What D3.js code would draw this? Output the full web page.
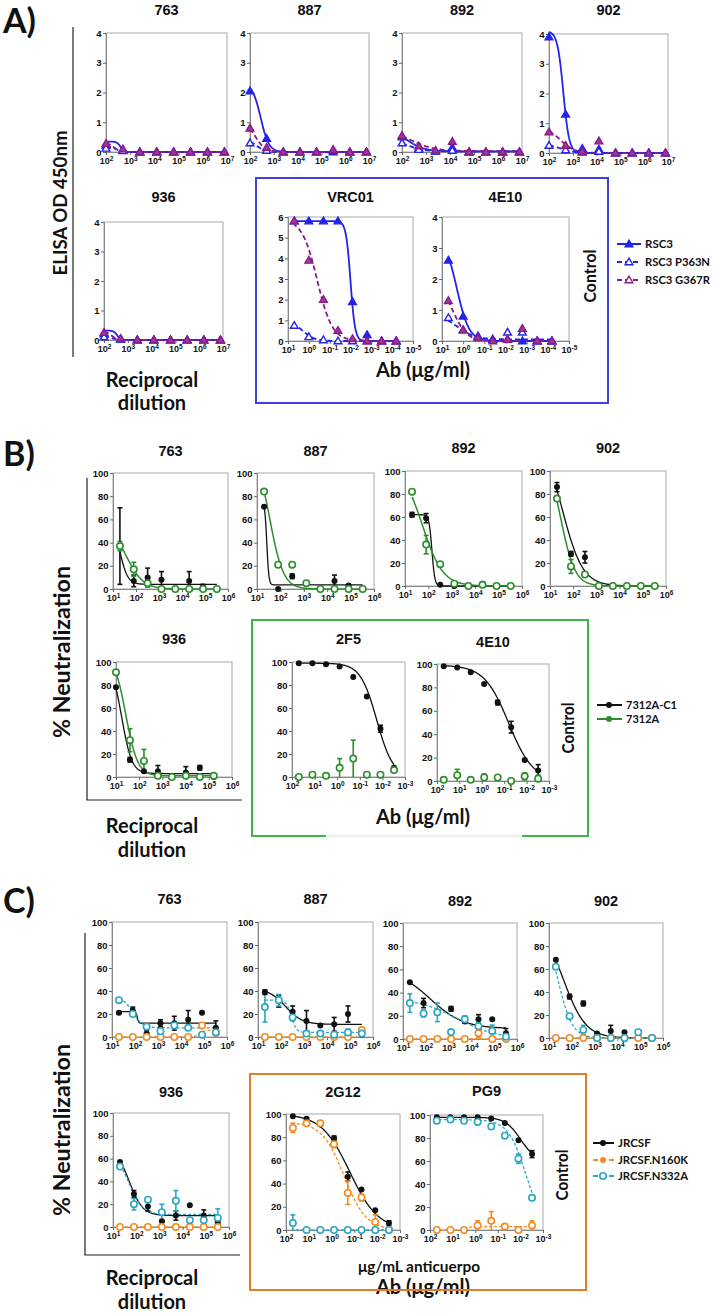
<!DOCTYPE html>
<html><head><meta charset="utf-8">
<script src="https://cdn.jsdelivr.net/npm/d3@7"></script>
<style>body{margin:0;background:#fff}svg{display:block}</style>
</head><body>
<svg id="c" width="713" height="1313"></svg>
<script>
// ---------------- DATA ----------------
// x values (reciprocal dilutions / antibody concentrations, ug/ml)
const A_dil = [100, 500, 2500, 12500, 62500, 312500, 1562500, 7812500];
const A_conc = [5, 1, 0.2, 0.04, 0.008, 0.0016, 0.00032, 0.000064];
const B_dil = [20, 80, 320, 1280, 5120, 20480, 81920, 327680];
const B936_dil = [10, 40, 160, 640, 2560, 10240, 40960, 163840];
const C_dil = [20, 80, 320, 1280, 5120, 20480, 81920, 327680];
const Ab_conc = [50, 12.5, 3.125, 0.781, 0.195, 0.0488, 0.0122, 0.00305];

// tick labels (powers of ten)
const A_dil_exp = [2, 3, 4, 5, 6, 7];
const A_conc_exp = [1, 0, -1, -2, -3, -4, -5];
const BC_dil_exp = [1, 2, 3, 4, 5, 6];
const BC_conc_exp = [2, 1, 0, -1, -2, -3];

// Panel A  (ELISA OD 450nm) series: RSC3, RSC3 P363N, RSC3 G367R
const A763_RSC3 = [0.22, 0.05, 0, 0, 0, 0, 0, 0];
const A763_P363N = [0.12, 0.04, 0, 0, 0, 0, 0, 0];
const A763_G367R = [0.28, 0.1, 0, 0, 0, 0, 0, 0];
const A887_RSC3 = [2.05, 0.45, 0, 0, 0, 0, 0, 0];
const A887_P363N = [0.3, 0.05, 0, 0, 0, 0.05, 0, 0];
const A887_G367R = [0.8, 0.15, 0, 0, 0, 0.08, 0, 0];
const A892_RSC3 = [0.5, 0.12, 0.02, 0.15, 0, 0, 0, 0];
const A892_P363N = [0.3, 0.08, 0.02, 0.05, 0, 0, 0, 0];
const A892_G367R = [0.55, 0.2, 0.05, 0.35, 0, 0, 0, 0];
const A902_RSC3 = [3.9, 1.3, 0.15, 0.12, 0, 0, 0, 0];
const A902_P363N = [0.25, 0.1, 0.02, 0.05, 0, 0, 0, 0];
const A902_G367R = [0.7, 0.25, 0.05, 0.4, 0, 0, 0, 0];
const A936_RSC3 = [0.2, 0.02, 0, 0, 0, 0, 0, 0];
const A936_P363N = [0.1, 0.02, 0, 0, 0, 0, 0, 0];
const A936_G367R = [0.25, 0.05, 0, 0, 0, 0, 0, 0];
const AVRC01_RSC3 = [5.8, 5.8, 5.8, 5.8, 1.9, 0.3, 0, 0];
const AVRC01_P363N = [0.75, 0.2, 0.05, 0, 0, 0, 0, 0];
const AVRC01_G367R = [5.8, 3.9, 2.0, 0.5, 0.1, 0, 0, 0];
const A4E10_RSC3 = [2.6, 0.8, 0.15, 0.05, 0.05, 0, 0, 0];
const A4E10_P363N = [0.75, 0.35, 0.15, 0.05, 0.28, 0.28, 0, 0];
const A4E10_G367R = [1.3, 0.35, 0.1, 0, 0.05, 0.4, 0, 0];
// fitted curves: [top, bottom, logEC50, hill]
const A763_fit = [[0.35, 0, 2.6, 6], [0.2, 0, 2.4, 3], [0.35, 0, 2.3, 3]];
const A887_fit = [[2.3, 0, 2.45, 2.5], [0.4, 0, 2.3, 2.5], [1.1, 0, 2.2, 2]];
const A892_fit = [[0.8, 0.02, 2.2, 1.2], [0.45, 0.02, 2.2, 1.2], [0.75, 0.03, 2.4, 0.9]];
const A902_fit = [[4.1, 0, 2.6, 3.5], [0.3, 0, 2.5, 1.5], [0.85, 0, 2.5, 1.5]];
const A936_fit = [[0.32, 0, 2.55, 6], [0.15, 0, 2.3, 3], [0.32, 0, 2.3, 3]];
const AVRC01_fit = [[5.8, 0, -2.0, -4], [1.0, 0, 0.3, -1.5], [5.9, 0, -0.4, -1.2]];
const A4E10_fit = [[3.4, 0, 0.3, -1.5], [0.9, 0.05, 0.3, -1], [2, 0, 0.5, -1.3]];

// Panel B (% neutralization) series: 7312A-C1, 7312A  (values, error half-widths)
const B763_C1 = [37, 7, 10, 8, 0, 7, 2, 0];     const B763_C1_err = [33, 5, 8, 7, 0, 8, 2, 0];
const B763_A = [37, 17, 5, 0, 0, 0, 0, 0];      const B763_A_err = [4, 6, 3, 0, 0, 0, 0, 0];
const B887_C1 = [71, 0, 11, 5, 0, 7, 3, 0];     const B887_C1_err = [0, 0, 2, 0, 0, 5, 0, 0];
const B887_A = [84, 21, 21, 5, 0, 0, 0, 0];     const B887_A_err = [0, 2, 0, 0, 0, 0, 0, 0];
const B892_C1 = [62, 59, 1, 0, 0, 2, 0, 0];     const B892_C1_err = [2, 4, 0, 0, 0, 1, 0, 0];
const B892_A = [82, 36, 19, 2, 0, 1, 0, 0];     const B892_A_err = [2, 8, 0, 0, 0, 0, 0, 0];
const B902_C1 = [86, 28, 25, 0, 0, 0, 0, 0];    const B902_C1_err = [4, 2, 5, 0, 0, 0, 0, 0];
const B902_A = [76, 17, 10, 0, 0, 0, 0, 0];     const B902_A_err = [0, 6, 0, 0, 0, 0, 0, 0];
const B936_C1 = [78, 15, 5, 5, 0, 4, 8, 0];     const B936_C1_err = [0, 2, 0, 5, 0, 5, 2, 0];
const B936_A = [91, 32, 14, 1, 0, 1, 0, 1];     const B936_A_err = [0, 10, 10, 0, 0, 0, 0, 0];
const B2F5_C1 = [99, 99, 98, 96, 87, 70, 42, 8]; const B2F5_C1_err = [0, 0, 0, 0, 0, 0, 3, 1];
const B2F5_A = [0, 2, 1, 8, 16, 2, 2, 6];       const B2F5_A_err = [0, 0, 0, 8, 16, 0, 0, 2];
const B4E10_C1 = [98, 97, 93, 83, 67, 46, 18, 9]; const B4E10_C1_err = [0, 0, 0, 1, 2, 5, 1, 5];
const B4E10_A = [1, 5, 1, 3, 3, 0, 4, 2];       const B4E10_A_err = [0, 5, 0, 3, 0, 0, 3, 3];
const B763_fit = [[60, 4, 1.3, 2.5], [55, 0, 1.6, 1.2]];
const B887_fit = [[75, 3.5, 1.42, 10], [120, 0, 1.55, 1.5]];
const B892_fit = [[62, 0, 2.15, 7], [105, 0, 1.75, 1.0]];
const B902_fit = [[130, 0, 1.55, 1.0], [120, 0, 1.45, 1.4]];
const B936_fit = [[100, 3, 1.25, 2], [108, 1, 1.42, 1.7]];
const B2F5_fit = [[99, 0, -1.75, -1.2], null];
const B4E10_fit = [[99, 0, -1.2, -0.8], null];

// Panel C (% neutralization) series: JRCSF, JRCSF.N160K, JRCSF.N332A
const C763_JR = [21, 23, 3, 12, 12, 15, 21, 8];   const C763_JR_err = [1, 3, 3, 3, 6, 8, 0, 6];
const C763_K = [0, 0, 0, 0, 0, 0, 10, 4];         const C763_K_err = [0, 0, 0, 0, 0, 0, 0, 3];
const C763_A = [32, 20, 9, 5, 10, 8, 2, 4];       const C763_A_err = [0, 0, 2, 0, 0, 0, 0, 0];
const C887_JR = [39, 31, 22, 14, 10, 11, 20, 2];  const C887_JR_err = [2, 5, 5, 9, 0, 6, 7, 2];
const C887_K = [0, 0, 0, 0, 0, 0, 0, 6];          const C887_K_err = [0, 0, 0, 0, 0, 0, 0, 1];
const C887_A = [26, 32, 17, 3, 3, 2, 4, 3];       const C887_A_err = [13, 5, 3, 0, 0, 0, 3, 0];
const C892_JR = [49, 31, 23, 26, 15, 17, 17, 5];  const C892_JR_err = [0, 4, 2, 2, 1, 4, 0, 4];
const C892_K = [0, 0, 0, 0, 0, 5, 0, 0];          const C892_K_err = [0, 0, 0, 0, 0, 4, 0, 0];
const C892_A = [31, 22, 23, 6, 17, 11, 7, 2];     const C892_A_err = [8, 3, 8, 0, 3, 3, 5, 0];
const C902_JR = [68, 36, 30, 4, 6, 5, 2, 0];      const C902_JR_err = [0, 2, 2, 0, 5, 0, 0, 0];
const C902_K = [0, 0, 0, 0, 0, 0, 0, 0];          const C902_K_err = [0, 0, 0, 0, 0, 0, 0, 0];
const C902_A = [62, 19, 7, 0, 0, 0, 5, 0];        const C902_A_err = [0, 0, 4, 0, 0, 0, 0, 0];
const C936_JR = [57, 29, 18, 5, 10, 19, 10, 4];   const C936_JR_err = [0, 3, 4, 0, 4, 0, 5, 2];
const C936_K = [0, 0, 0, 0, 0, 0, 0, 0];          const C936_K_err = [0, 0, 0, 0, 0, 0, 0, 0];
const C936_A = [53, 20, 24, 13, 23, 6, 6, 8];     const C936_A_err = [0, 5, 0, 7, 9, 0, 0, 8];
const C2G12_JR = [98, 96, 91, 79, 46, 35, 17, 6]; const C2G12_JR_err = [0, 0, 1, 2, 4, 0, 0, 2];
const C2G12_K = [88, 92, 92, 74, 32, 28, 7, 0];   const C2G12_K_err = [4, 0, 2, 3, 10, 3, 6, 0];
const C2G12_A = [6, 0, 0, 0, 0, 0, 0, 0];         const C2G12_A_err = [7, 0, 0, 0, 0, 0, 0, 0];
const CPG9_JR = [98, 98, 98, 98, 97, 93, 78, 66]; const CPG9_JR_err = [0, 0, 0, 0, 0, 0, 0, 3];
const CPG9_K = [0, 0, 0, 4, 8, 3, 0, 4];          const CPG9_K_err = [0, 0, 0, 4, 8, 2, 0, 4];
const CPG9_A = [95, 96, 95, 94, 90, 82, 62, 28];  const CPG9_A_err = [0, 0, 0, 0, 0, 0, 4, 2];
const C763_fit = [[22, 12, 2.1, 15], [0, 6, 4.8, 4], [35, 8, 1.9, 2]];
const C887_fit = [[42, 11, 2.2, 1.2], [0, 0, 3, 1], [32, 4, 2.45, 4]];
const C892_fit = [[60, 9, 2.2, 0.6], [0, 0, 3, 1], [35, 0, 3.4, 0.5]];
const C902_fit = [[100, 0, 1.65, 0.9], [0, 0, 3, 1], [100, 0, 1.4, 1.4]];
const C936_fit = [[70, 10, 1.7, 1.5], [0, 0, 3, 1], [65, 11, 1.7, 1.5]];
const C2G12_fit = [[100, 0, -0.8, -0.7], [93, 0, -0.55, -0.9], [0, 0, 0, 1]];
const CPG9_fit = [[98, 60, -2.0, -1.3], [0, 3, 0.3, -8], [96, 0, -2.25, -1.1]];

// ---------------- DRAWING ----------------
const svg = d3.select('#c');
const TF = '"Liberation Sans", Arial, sans-serif';
const LF = 'Lato, "Open Sans", sans-serif';
const COL = {
  blue: '#2323ee', purple: '#8b1a89', black: '#111', green: '#2a8f2a',
  orange: '#f68b1f', cyan: '#2aa6c6'
};

function fitY(p, xv) {
  const [top, bot, ec, h] = p;
  return bot + (top - bot) / (1 + Math.pow(10, (Math.log10(xv) - ec) * h));
}

function drawPlot(c) {
  const g = svg.append('g');
  const x = d3.scaleLog().domain(c.xdom).range([c.x0, c.x1]);
  const y = d3.scaleLinear().domain([0, c.ymax]).range([c.y1, c.y0]);
  g.append('rect').attr('x', c.x0).attr('y', c.y0).attr('width', c.x1 - c.x0).attr('height', c.y1 - c.y0)
    .attr('fill', 'none').attr('stroke', '#a8a8a8').attr('stroke-width', 1);
  const ya = g.append('g').attr('transform', `translate(${c.x0},0)`)
    .call(d3.axisLeft(y).tickValues(d3.range(0, c.ymax + 1e-9, c.ystep)).tickSize(3).tickPadding(1.5).tickFormat(d3.format('d')));
  ya.select('.domain').attr('stroke', '#888');
  ya.selectAll('.tick line').attr('stroke', '#666');
  ya.selectAll('text').attr('font-family', TF).attr('font-weight', 'bold').attr('font-size', 9.5).attr('fill', '#111');
  const xa = g.append('g').attr('transform', `translate(0,${c.y1})`)
    .call(d3.axisBottom(x).tickValues(c.xexp.map(e => Math.pow(10, e))).tickSize(3).tickPadding(3).tickFormat(() => ''));
  xa.select('.domain').attr('stroke', '#888');
  xa.selectAll('.tick line').attr('stroke', '#666');
  xa.selectAll('.tick text').attr('font-family', TF).attr('font-weight', 'bold').attr('font-size', 9).attr('fill', '#111')
    .each(function (d) {
      const t = d3.select(this);
      const e = Math.round(Math.log10(d));
      t.append('tspan').text('10');
      t.append('tspan').attr('dy', '-0.45em').attr('font-size', 6.5).text(e);
    });
  // title
  g.append('text').attr('x', (c.x0 + c.x1) / 2).attr('y', c.ty).attr('text-anchor', 'middle')
    .attr('font-family', TF).attr('font-weight', 'bold').attr('font-size', 14.5).attr('fill', '#111').text(c.title);
  // curves
  c.series.forEach(s => {
    if (!s.fit) return;
    const lo = Math.log10(d3.min(s.x)), hi = Math.log10(d3.max(s.x));
    const pts = d3.range(0, 241).map(i => {
      const lx = lo + (hi - lo) * i / 240;
      return [x(Math.pow(10, lx)), y(fitY(s.fit, Math.pow(10, lx)))];
    });
    g.append('path').attr('d', d3.line()(pts)).attr('fill', 'none').attr('stroke', s.color)
      .attr('stroke-width', s.lw || 1.5).attr('stroke-dasharray', s.dash || null);
  });
  // error bars
  c.series.forEach(s => {
    if (!s.err) return;
    s.y.forEach((v, i) => {
      const e = s.err[i];
      if (!e) return;
      const px = x(s.x[i]);
      const yl = y(Math.max(0, v - e)), yh = y(v + e);
      g.append('line').attr('x1', px).attr('x2', px).attr('y1', yl).attr('y2', yh).attr('stroke', s.color).attr('stroke-width', 1.6);
      g.append('line').attr('x1', px - 2.5).attr('x2', px + 2.5).attr('y1', yh).attr('y2', yh).attr('stroke', s.color).attr('stroke-width', 1.6);
      if (v - e > 0) g.append('line').attr('x1', px - 2.5).attr('x2', px + 2.5).attr('y1', yl).attr('y2', yl).attr('stroke', s.color).attr('stroke-width', 1.6);
    });
  });
  // markers
  c.series.forEach(s => {
    s.y.forEach((v, i) => {
      const px = x(s.x[i]), py = y(v);
      drawMarker(g, s.marker, px, py, s.color, s.open, s.fill);
    });
  });
}

function drawMarker(g, type, px, py, color, open, fill) {
  if (type === 'tri') {
    g.append('path').attr('d', d3.symbol().type(d3.symbolTriangle).size(26)())
      .attr('transform', `translate(${px},${py + 0.5})`)
      .attr('fill', open ? '#fff' : (fill || color)).attr('stroke', color).attr('stroke-width', 1.4);
  } else {
    if (open) {
      g.append('circle').attr('cx', px).attr('cy', py).attr('r', 3.2).attr('fill', '#fff').attr('stroke', color).attr('stroke-width', 1.6);
    } else {
      g.append('circle').attr('cx', px).attr('cy', py).attr('r', 3).attr('fill', color);
    }
  }
}

// ---- Panel A config
const A_styles = [
  { color: COL.blue, marker: 'tri', open: false, dash: null, lw: 1.8 },
  { color: COL.blue, marker: 'tri', open: true, dash: '5,3', lw: 1.8 },
  { color: COL.purple, marker: 'tri', open: false, fill: '#9a3a98', dash: '5,3', lw: 1.8 }
];
function aSeries(xv, arr, fits) {
  return arr.map((v, i) => Object.assign({ x: xv, y: v, fit: fits[i] }, A_styles[i]));
}
const panelsA = [
  { title: '763', ty: 15, x0: 106, x1: 227, y0: 33, y1: 152, xdom: [100, 1e7], xexp: A_dil_exp, ymax: 4, ystep: 1, series: aSeries(A_dil, [A763_RSC3, A763_P363N, A763_G367R], A763_fit) },
  { title: '887', ty: 15, x0: 250, x1: 369, y0: 33, y1: 152, xdom: [100, 1e7], xexp: A_dil_exp, ymax: 4, ystep: 1, series: aSeries(A_dil, [A887_RSC3, A887_P363N, A887_G367R], A887_fit) },
  { title: '892', ty: 15, x0: 402, x1: 522, y0: 33, y1: 152, xdom: [100, 1e7], xexp: A_dil_exp, ymax: 4, ystep: 1, series: aSeries(A_dil, [A892_RSC3, A892_P363N, A892_G367R], A892_fit) },
  { title: '902', ty: 15, x0: 549, x1: 668, y0: 34, y1: 153, xdom: [100, 1e7], xexp: A_dil_exp, ymax: 4, ystep: 1, series: aSeries(A_dil, [A902_RSC3, A902_P363N, A902_G367R], A902_fit) },
  { title: '936', ty: 202, x0: 104, x1: 223, y0: 222, y1: 340, xdom: [100, 1e7], xexp: A_dil_exp, ymax: 4, ystep: 1, series: aSeries(A_dil, [A936_RSC3, A936_P363N, A936_G367R], A936_fit) },
  { title: 'VRC01', ty: 202, x0: 288, x1: 413, y0: 217, y1: 341, xdom: [10, 1e-5], xexp: A_conc_exp, ymax: 6, ystep: 1, series: aSeries(A_conc, [AVRC01_RSC3, AVRC01_P363N, AVRC01_G367R], AVRC01_fit) },
  { title: '4E10', ty: 202, x0: 442, x1: 569, y0: 217, y1: 341, xdom: [10, 1e-5], xexp: A_conc_exp, ymax: 4, ystep: 1, series: aSeries(A_conc, [A4E10_RSC3, A4E10_P363N, A4E10_G367R], A4E10_fit) }
];

// ---- Panel B config
const B_styles = [
  { color: COL.black, marker: 'circle', open: false, lw: 1.3 },
  { color: COL.green, marker: 'circle', open: true, lw: 1.5 }
];
function bSeries(xv, vals, errs, fits) {
  return vals.map((v, i) => Object.assign({ x: xv, y: v, err: errs[i], fit: fits[i] }, B_styles[i]));
}
const panelsB = [
  { title: '763', ty: 456, x0: 113, x1: 228, y0: 473, y1: 589, xdom: [10, 1e6], xexp: BC_dil_exp, ymax: 100, ystep: 20, series: bSeries(B_dil, [B763_C1, B763_A], [B763_C1_err, B763_A_err], B763_fit) },
  { title: '887', ty: 456, x0: 257, x1: 374, y0: 473, y1: 589, xdom: [10, 1e6], xexp: BC_dil_exp, ymax: 100, ystep: 20, series: bSeries(B_dil, [B887_C1, B887_A], [B887_C1_err, B887_A_err], B887_fit) },
  { title: '892', ty: 453, x0: 405, x1: 522, y0: 471, y1: 586, xdom: [10, 1e6], xexp: BC_dil_exp, ymax: 100, ystep: 20, series: bSeries(B_dil, [B892_C1, B892_A], [B892_C1_err, B892_A_err], B892_fit) },
  { title: '902', ty: 453, x0: 550, x1: 666, y0: 471, y1: 586, xdom: [10, 1e6], xexp: BC_dil_exp, ymax: 100, ystep: 20, series: bSeries(B_dil, [B902_C1, B902_A], [B902_C1_err, B902_A_err], B902_fit) },
  { title: '936', ty: 644, x0: 116, x1: 232, y0: 662, y1: 777, xdom: [10, 1e6], xexp: BC_dil_exp, ymax: 100, ystep: 20, series: bSeries(B936_dil, [B936_C1, B936_A], [B936_C1_err, B936_A_err], B936_fit) },
  { title: '2F5', ty: 644, x0: 292, x1: 405, y0: 662, y1: 777, xdom: [100, 1e-3], xexp: BC_conc_exp, ymax: 100, ystep: 20, series: bSeries(Ab_conc, [B2F5_C1, B2F5_A], [B2F5_C1_err, B2F5_A_err], B2F5_fit) },
  { title: '4E10', ty: 647, x0: 437, x1: 549, y0: 664, y1: 781, xdom: [100, 1e-3], xexp: BC_conc_exp, ymax: 100, ystep: 20, series: bSeries(Ab_conc, [B4E10_C1, B4E10_A], [B4E10_C1_err, B4E10_A_err], B4E10_fit) }
];

// ---- Panel C config
const C_styles = [
  { color: COL.black, marker: 'circle', open: false, lw: 1.3 },
  { color: COL.orange, marker: 'circle', open: true, dash: '3,2', lw: 1.3 },
  { color: COL.cyan, marker: 'circle', open: true, dash: '3,2', lw: 1.3 }
];
function cSeries(xv, vals, errs, fits) {
  return vals.map((v, i) => Object.assign({ x: xv, y: v, err: errs[i], fit: fits[i] }, C_styles[i]));
}
const panelsC = [
  { title: '763', ty: 904, x0: 112, x1: 227, y0: 922, y1: 1037, xdom: [10, 1e6], xexp: BC_dil_exp, ymax: 100, ystep: 20, series: cSeries(C_dil, [C763_JR, C763_K, C763_A], [C763_JR_err, C763_K_err, C763_A_err], C763_fit) },
  { title: '887', ty: 904, x0: 258, x1: 373, y0: 922, y1: 1037, xdom: [10, 1e6], xexp: BC_dil_exp, ymax: 100, ystep: 20, series: cSeries(C_dil, [C887_JR, C887_K, C887_A], [C887_JR_err, C887_K_err, C887_A_err], C887_fit) },
  { title: '892', ty: 906, x0: 403, x1: 517, y0: 923, y1: 1039, xdom: [10, 1e6], xexp: BC_dil_exp, ymax: 100, ystep: 20, series: cSeries(C_dil, [C892_JR, C892_K, C892_A], [C892_JR_err, C892_K_err, C892_A_err], C892_fit) },
  { title: '902', ty: 906, x0: 549, x1: 663, y0: 923, y1: 1038, xdom: [10, 1e6], xexp: BC_dil_exp, ymax: 100, ystep: 20, series: cSeries(C_dil, [C902_JR, C902_K, C902_A], [C902_JR_err, C902_K_err, C902_A_err], C902_fit) },
  { title: '936', ty: 1097, x0: 113, x1: 229, y0: 1113, y1: 1227, xdom: [10, 1e6], xexp: BC_dil_exp, ymax: 100, ystep: 20, series: cSeries(C_dil, [C936_JR, C936_K, C936_A], [C936_JR_err, C936_K_err, C936_A_err], C936_fit) },
  { title: '2G12', ty: 1097, x0: 286, x1: 400, y0: 1114, y1: 1230, xdom: [100, 1e-3], xexp: BC_conc_exp, ymax: 100, ystep: 20, series: cSeries(Ab_conc, [C2G12_JR, C2G12_K, C2G12_A], [C2G12_JR_err, C2G12_K_err, C2G12_A_err], C2G12_fit) },
  { title: 'PG9', ty: 1096, x0: 430, x1: 543, y0: 1115, y1: 1230, xdom: [100, 1e-3], xexp: BC_conc_exp, ymax: 100, ystep: 20, series: cSeries(Ab_conc, [CPG9_JR, CPG9_K, CPG9_A], [CPG9_JR_err, CPG9_K_err, CPG9_A_err], CPG9_fit) }
];

function line(x1, y1, x2, y2, color, w) {
  svg.append('line').attr('x1', x1).attr('y1', y1).attr('x2', x2).attr('y2', y2).attr('stroke', color).attr('stroke-width', w);
}
function label(txt, xx, yy, size, opts = {}) {
  const t = svg.append('text').attr('x', xx).attr('y', yy).attr('font-family', opts.font || LF)
    .attr('font-weight', opts.weight || 'bold').attr('font-size', size).attr('fill', '#111')
    .attr('text-anchor', opts.anchor || 'start').text(txt);
  if (opts.len) t.attr('textLength', opts.len).attr('lengthAdjust', 'spacingAndGlyphs');
  if (opts.rotate) t.attr('transform', `rotate(-90,${xx},${yy})`);
  return t;
}

[...panelsA, ...panelsB, ...panelsC].forEach(drawPlot);

// boxes
svg.append('rect').attr('x', 256).attr('y', 178).attr('width', 352).attr('height', 225).attr('fill', 'none').attr('stroke', '#3f3fdb').attr('stroke-width', 2);
svg.append('rect').attr('x', 252).attr('y', 620).attr('width', 336).attr('height', 216).attr('fill', 'none').attr('stroke', '#3cb44b').attr('stroke-width', 2);
line(326, 836, 522, 836, '#e6f4e8', 2.4);

// brackets
line(73, 27, 73, 357, '#222', 1.2);
line(87, 478, 87, 800, '#222', 1.2);
line(86.4, 800, 242, 800, '#222', 1.2);
line(85, 933, 85, 1255, '#222', 1.2);
line(84.4, 1255, 240, 1255, '#222', 1.2);

// panel letters
label('A)', 3, 33, 34);
label('B)', 3, 466, 34);
label('C)', 3, 913, 34);

// axis titles
label('ELISA  OD 450nm', 67, 203, 19, { rotate: true, anchor: 'middle', len: 145 });
label('% Neutralization', 70, 652, 23, { rotate: true, anchor: 'middle', len: 172 });
label('% Neutralization', 70, 1130, 23, { rotate: true, anchor: 'middle', len: 172 });
[[387, 410], [833, 857], [1285, 1309]].forEach(([a, b]) => {
  label('Reciprocal', 152, a, 20, { anchor: 'middle' });
  label('dilution', 152, b, 20, { anchor: 'middle' });
});
label('Ab (\u03bcg/ml)', 423, 377, 20, { anchor: 'middle' });
label('Ab (\u03bcg/ml)', 423, 824, 20, { anchor: 'middle' });
label('\u03bcg/mL anticuerpo', 419, 1272, 15, { anchor: 'middle', len: 122 });
label('Ab (\u03bcg/ml)', 423, 1294, 20, { anchor: 'middle' });
label('Control', 596, 276, 17, { rotate: true, anchor: 'middle', len: 53 });
label('Control', 574, 728, 17, { rotate: true, anchor: 'middle', len: 51 });
label('Control', 568, 1175, 17, { rotate: true, anchor: 'middle', len: 51 });

// orange box drawn over the overlapping label, as in the original
svg.append('rect').attr('x', 250).attr('y', 1074).attr('width', 336).attr('height', 216).attr('fill', 'none').attr('stroke', '#e57c24').attr('stroke-width', 2);

// legends
const legA_names = ['RSC3', 'RSC3 P363N', 'RSC3 G367R'];
const legB_names = ['7312A-C1', '7312A'];
const legC_names = ['JRCSF', 'JRCSF.N160K', 'JRCSF.N332A'];
function legend(names, styles, lx1, lx2, mx, tx, ys, size, legOpen, maxw) {
  names.forEach((n, i) => {
    const s = styles[i];
    svg.append('line').attr('x1', lx1).attr('x2', lx2).attr('y1', ys[i]).attr('y2', ys[i])
      .attr('stroke', s.color).attr('stroke-width', 2).attr('stroke-dasharray', s.dash ? '5,3' : null);
    drawMarker(svg, s.marker, mx, ys[i], s.color, legOpen[i], null);
    const t = label(n, tx, ys[i] + size * 0.36, size);
    if (maxw && t.node().getComputedTextLength() > maxw) t.attr('textLength', maxw).attr('lengthAdjust', 'spacingAndGlyphs');
  });
}
legend(legA_names, A_styles, 617, 641, 629, 645, [244, 262, 280], 11.5, [false, true, true], 65);
legend(legB_names, B_styles, 597, 622, 609, 626, [705, 719], 11, [false, false], 60);
legend(legC_names, C_styles, 593, 614, 603, 618, [1143, 1160, 1176], 11.5, [false, false, true], 70);
</script>
</body></html>
